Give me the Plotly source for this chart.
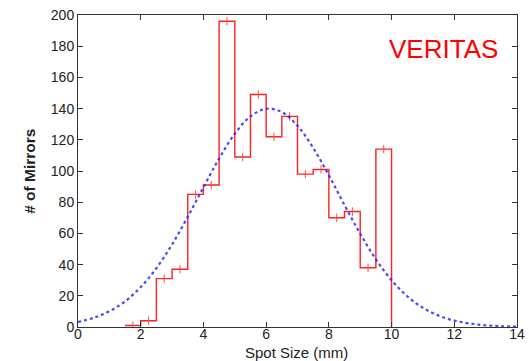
import plotly.graph_objects as go

# Histogram: bin left edges and counts (bin width 0.5 mm)
bin_edges = [1.5, 2.0, 2.5, 3.0, 3.5, 4.0, 4.5, 5.0, 5.5, 6.0, 6.5, 7.0, 7.5, 8.0, 8.5, 9.0, 9.5, 10.0]
counts = [1, 4, 31, 37, 85, 91, 196, 109, 149, 122, 135, 98, 101, 70, 74, 38, 114]

# Fitted curve
fit_x = [0, 0.5, 1, 1.5, 2, 2.5, 3, 3.5, 4, 4.5, 5, 5.5, 6, 6.5, 7, 7.5, 8, 8.5, 9, 9.5,
         10, 10.5, 11, 11.5, 12, 12.5, 13, 13.5, 14]
fit_y = [3.2, 5.9, 10.1, 16.4, 25.6, 37.7, 52.9, 70.6, 89.6, 108, 123.9, 135, 139.9, 137.8,
         129, 114.8, 97.2, 78.1, 59.8, 43.4, 30, 19.7, 12.3, 7.3, 4.1, 2.2, 1.1, 0.5, 0.2]

centers = [(bin_edges[i] + bin_edges[i + 1]) / 2 for i in range(len(counts))]

FONT = "Liberation Sans, Arial, Helvetica"

fig = go.Figure()

fig.add_trace(go.Scatter(
    x=bin_edges, y=counts + [0], mode="lines", line=dict(color="#ff2020", width=1.4, shape="hv"),
    showlegend=False, hoverinfo="skip"))

fig.add_trace(go.Scatter(
    x=centers, y=counts, mode="markers",
    marker=dict(symbol="line-ns-open", size=6, line=dict(color="#ff2020", width=1)),
    showlegend=False))

fig.add_trace(go.Scatter(
    x=fit_x, y=fit_y, mode="lines",
    line=dict(color="rgba(40,40,255,0.85)", width=2.2, dash="dot", shape="spline"),
    showlegend=False))

fig.add_annotation(x=11.64, y=178, text="VERITAS", showarrow=False,
                   font=dict(family=FONT, size=26, color="#ff0000"))

# Axis titles as annotations (paper coordinates)
fig.add_annotation(xref="paper", yref="paper", x=0.498, y=-0.0817, xanchor="center", yanchor="middle",
                   text="Spot Size (mm)", showarrow=False, borderpad=0,
                   font=dict(family=FONT, size=15, color="#222222"))
fig.add_annotation(xref="paper", yref="paper", x=-0.112, y=0.5, xanchor="center", yanchor="middle",
                   text="<b># of Mirrors</b>", textangle=-90, showarrow=False,
                   font=dict(family=FONT, size=15.5, color="#222222"))

axis_common = dict(showline=True, linecolor="#333333", linewidth=1, mirror="ticks",
                   ticks="inside", ticklen=5, tickcolor="#333333", showgrid=False,
                   zeroline=False, automargin=False,
                   tickfont=dict(family=FONT, size=14, color="#222222"))

fig.update_xaxes(range=[0, 14], dtick=2, tick0=0, ticklabelstandoff=-6, **axis_common)
fig.update_yaxes(range=[0, 200], dtick=20, tick0=0, **axis_common)

fig.update_layout(width=529, height=361, margin=dict(l=78, r=12, t=15, b=34),
                  plot_bgcolor="white", paper_bgcolor="white")

fig.write_html("out.html")
